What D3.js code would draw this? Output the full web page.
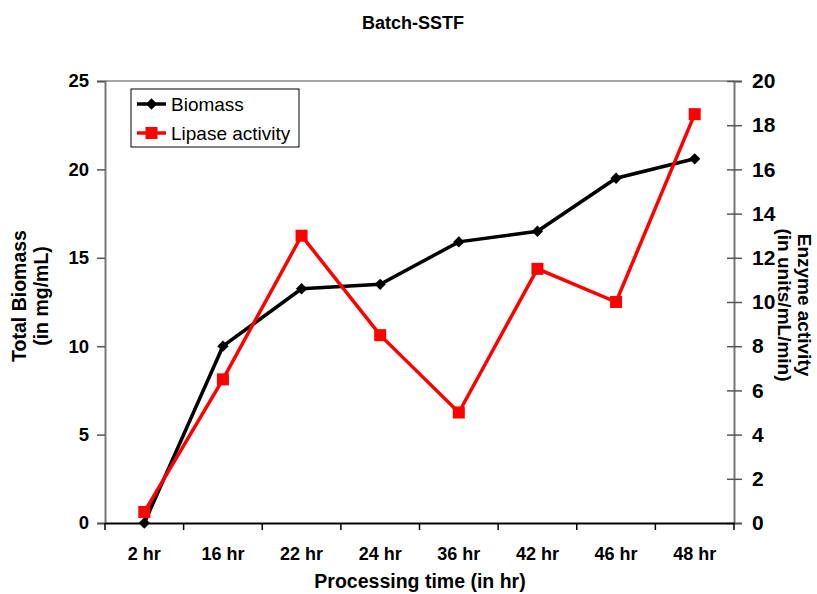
<!DOCTYPE html>
<html>
<head>
<meta charset="utf-8">
<script src="https://cdn.jsdelivr.net/npm/d3@7"></script>
<style>
body { margin: 0; background: #fff; }
text { font-family: "Liberation Sans", Arial, sans-serif; }
</style>
</head>
<body>
<div id="chart"></div>
<script>
var categories = ["2 hr", "16 hr", "22 hr", "24 hr", "36 hr", "42 hr", "46 hr", "48 hr"];
var biomass = [0, 10, 13.25, 13.5, 15.9, 16.5, 19.5, 20.6];
var lipase = [0.5, 6.5, 13, 8.5, 5, 11.5, 10, 18.5];
var leftTicks = [0, 5, 10, 15, 20, 25];
var rightTicks = [0, 2, 4, 6, 8, 10, 12, 14, 16, 18, 20];

var svg = d3.select("#chart").append("svg")
	.attr("width", 817)
	.attr("height", 594);

var x = d3.scaleBand().domain(categories).range([105, 734]);
var yL = d3.scaleLinear().domain([0, 25]).range([523, 81]);
var yR = d3.scaleLinear().domain([0, 20]).range([523, 81]);

// title
svg.append("text")
	.attr("x", 413).attr("y", 29)
	.attr("text-anchor", "middle")
	.style("font-size", "18px").style("font-weight", "bold")
	.text("Batch-SSTF");

// top border
svg.append("line")
	.attr("x1", 105).attr("x2", 734).attr("y1", 81).attr("y2", 81)
	.style("stroke", "#888").style("stroke-width", 1.5);

// left axis
var gL = svg.append("g").attr("transform", "translate(105,0)")
	.call(d3.axisLeft(yL).tickValues(leftTicks).tickSize(8).tickPadding(8));
gL.select(".domain").style("stroke", "#777").style("stroke-width", 2);
gL.selectAll(".tick line").style("stroke", "#555").style("stroke-width", 1.5);
gL.selectAll("text").style("font-size", "18.5px").style("font-weight", "bold")
	.style("font-family", "'Liberation Sans', Arial, sans-serif").attr("fill", "#000");

// right axis
var gR = svg.append("g").attr("transform", "translate(734,0)")
	.call(d3.axisRight(yR).tickValues(rightTicks).tickSize(8).tickPadding(10));
gR.select(".domain").style("stroke", "#777").style("stroke-width", 2);
gR.selectAll(".tick line").attr("x1", -7).style("stroke", "#555").style("stroke-width", 1.5);
gR.selectAll("text").style("font-size", "21px").style("font-weight", "bold")
	.style("font-family", "'Liberation Sans', Arial, sans-serif").attr("fill", "#000");

// bottom axis
var gB = svg.append("g").attr("transform", "translate(0,523)")
	.call(d3.axisBottom(x).tickSize(0).tickPadding(24));
gB.select(".domain").style("stroke", "#000").style("stroke-width", 2);
gB.selectAll("text").style("font-size", "18px").style("font-weight", "bold")
	.style("font-family", "'Liberation Sans', Arial, sans-serif").attr("fill", "#000");
var bounds = categories.map(function (d) { return x(d); }).concat([x.range()[1]]);
gB.selectAll(".bt").data(bounds).enter().append("line")
	.attr("x1", function (d) { return d; }).attr("x2", function (d) { return d; })
	.attr("y1", 0).attr("y2", 7)
	.style("stroke", "#000").style("stroke-width", 1.5);

// axis titles
svg.append("text")
	.attr("x", 420).attr("y", 588)
	.attr("text-anchor", "middle")
	.style("font-size", "19.5px").style("font-weight", "bold")
	.text("Processing time (in hr)");

var lt = svg.append("text")
	.attr("transform", "translate(26,296) rotate(-90)")
	.attr("text-anchor", "middle")
	.style("font-size", "19.5px").style("font-weight", "bold");
lt.append("tspan").attr("x", 0).attr("y", 0).text("Total Biomass");
lt.append("tspan").attr("x", 0).attr("y", 22).text("(in mg/mL)");

var rt = svg.append("text")
	.attr("transform", "translate(798,305) rotate(90)")
	.attr("text-anchor", "middle")
	.style("font-size", "19px").style("font-weight", "bold");
rt.append("tspan").attr("x", 0).attr("y", 0).text("Enzyme activity");
rt.append("tspan").attr("x", 0).attr("y", 20).text("(in units/mL/min)");

// series
var cx = function (i) { return x(categories[i]) + x.bandwidth() / 2; };

svg.append("path")
	.datum(biomass)
	.attr("d", d3.line().x(function (d, i) { return cx(i); }).y(function (d) { return yL(d); }))
	.style("fill", "none").style("stroke", "#000").style("stroke-width", 3.5);
svg.selectAll(".bm").data(biomass).enter().append("path")
	.attr("d", d3.symbol(d3.symbolSquare, 64)())
	.attr("transform", function (d, i) { return "translate(" + cx(i) + "," + yL(d) + ") rotate(45)"; })
	.style("fill", "#000");

svg.append("path")
	.datum(lipase)
	.attr("d", d3.line().x(function (d, i) { return cx(i); }).y(function (d) { return yR(d); }))
	.style("fill", "none").style("stroke", "#ff0000").style("stroke-width", 3.5);
svg.selectAll(".lp").data(lipase).enter().append("path")
	.attr("d", d3.symbol(d3.symbolSquare, 144)())
	.attr("transform", function (d, i) { return "translate(" + cx(i) + "," + yR(d) + ")"; })
	.style("fill", "#ff0000");

// legend
var lg = svg.append("g");
lg.append("rect")
	.attr("x", 131).attr("y", 89).attr("width", 168).attr("height", 58)
	.style("fill", "#fff").style("stroke", "#000").style("stroke-width", 1);
var legendItems = [
	{ name: "Biomass", color: "#000", sym: "diamond" },
	{ name: "Lipase activity", color: "#ff0000", sym: "square" }
];
legendItems.forEach(function (d, i) {
	var yy = 104 + i * 29;
	lg.append("line").attr("x1", 137).attr("x2", 166).attr("y1", yy).attr("y2", yy)
		.style("stroke", d.color).style("stroke-width", 3.5);
	lg.append("path")
		.attr("d", d.sym == "diamond" ? d3.symbol(d3.symbolSquare, 64)() : d3.symbol(d3.symbolSquare, 144)())
		.attr("transform", "translate(151.5," + yy + ")" + (d.sym == "diamond" ? " rotate(45)" : ""))
		.style("fill", d.color);
	lg.append("text").attr("x", 171).attr("y", yy + 7)
		.style("font-size", "19px")
		.text(d.name);
});
</script>
</body>
</html>
